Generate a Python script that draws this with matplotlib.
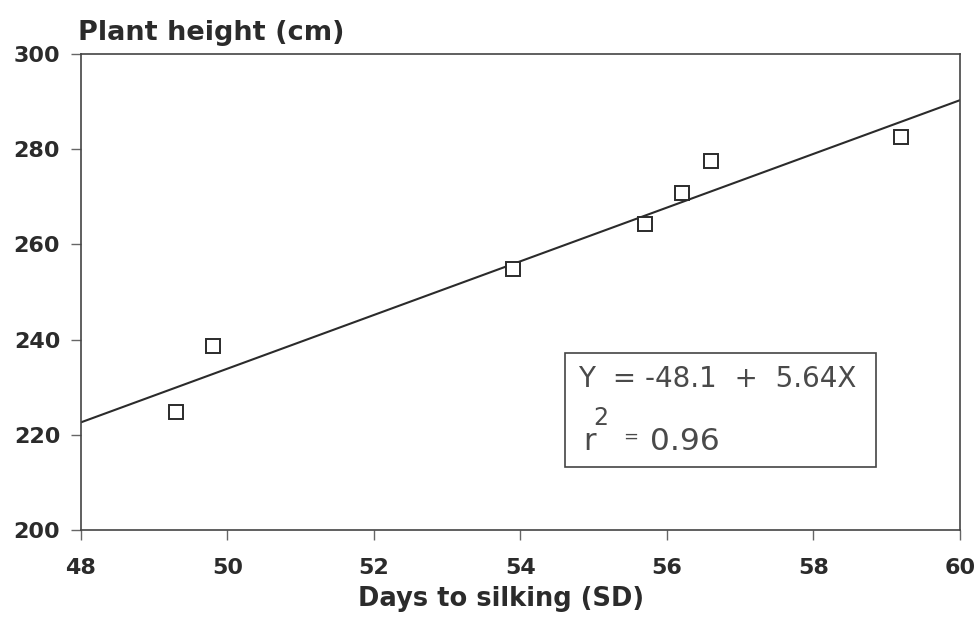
import matplotlib
matplotlib.use("Agg")
import matplotlib.pyplot as plt
import numpy as np

# observed points
days = [49.3, 49.8, 53.9, 55.7, 56.2, 56.6, 59.2]
height = [224.8, 238.6, 254.9, 264.3, 270.7, 277.5, 282.5]

# fitted regression
intercept, slope, r2 = -48.1, 5.64, 0.96
x_ticks = [48, 50, 52, 54, 56, 58, 60]
y_ticks = [200, 220, 240, 260, 280, 300]

INK = "#2b2b2b"
SOFT = "#4a4a4a"
plt.rcParams["font.family"] = ["DejaVu Sans"]

fig = plt.figure(figsize=(9.8, 6.2), dpi=100)
ax = fig.add_axes([81 / 980, 1 - 530 / 620, (960 - 81) / 980, (530 - 54) / 620])

xl = np.array([48, 60])
ax.plot(xl, intercept + slope * xl, color=INK, lw=1.5)
ax.plot(days, height, ls="none", marker="s", ms=9.5, mfc="white",
        mec=INK, mew=1.4)

ax.set_xlim(48, 60)
ax.set_ylim(200, 300)
ax.set_xticks(x_ticks)
ax.set_yticks(y_ticks)
ax.tick_params(axis="both", direction="out", length=7, width=1.0, color="#666666",
               labelsize=16, labelcolor=INK)
ax.tick_params(axis="x", pad=13)
ax.tick_params(axis="y", pad=8)
for lab in ax.get_xticklabels() + ax.get_yticklabels():
    lab.set_fontweight("bold")
for s in ax.spines.values():
    s.set_color("#444444")
    s.set_linewidth(1.2)

# equation box
ax.text(54.79, 230.0, f"Y  = {intercept}  +  {slope}X", fontsize=20, color=SOFT,
        va="baseline", ha="left")
ax.text(54.86, 216.8, "r", fontsize=22, color=SOFT, va="baseline", ha="left")
ax.text(55.0, 222.1, "2", fontsize=17, color=SOFT, va="baseline", ha="left")
ax.text(55.40, 219.6, "=", fontsize=13, color=SOFT, va="center", ha="left")
ax.text(55.77, 216.8, f"{r2}", fontsize=22.5, color=SOFT, va="baseline", ha="left")
box = plt.Rectangle((54.61, 213.2), 58.85 - 54.61, 237.2 - 213.2, fill=False,
                    ec="#444444", lw=1.2)
ax.add_patch(box)

fig.text(78 / 980, 1 - 40 / 620, "Plant height (cm)", fontsize=19.5,
         fontweight="bold", color=INK, ha="left", va="baseline")
fig.text(501 / 980, 1 - 606 / 620, "Days to silking (SD)", fontsize=18.5,
         fontweight="bold", color=INK, ha="center", va="baseline")

fig.savefig("out.png", dpi=100)
